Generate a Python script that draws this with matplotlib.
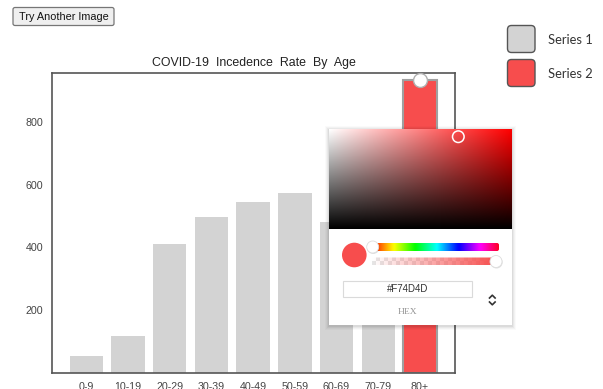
import numpy as np
import matplotlib.pyplot as plt
from matplotlib.patches import FancyBboxPatch, Circle, Rectangle

# chart data
ages = ["0-9", "10-19", "20-29", "30-39", "40-49", "50-59", "60-69", "70-79", "80+"]
rates = [53, 118, 410, 496, 545, 574, 480, 520, 934]
bar_colors = ["#d3d3d3"] * 8 + ["#f74d4d"]
y_ticks = [200, 400, 600, 800]
series_names = ["Series 1", "Series 2"]
series_colors = ["#d3d3d3", "#f74d4d"]
picked_hex = "#F74D4D"
title = "COVID-19  Incedence  Rate  By  Age"

W, H = 603, 389
fig = plt.figure(figsize=(W / 100, H / 100), dpi=100)
fig.patch.set_facecolor("white")

# main chart (pixel box: x 52..455, y 73..372.5)
ax = fig.add_axes([52.3 / W, (H - 372.5) / H, (455 - 52.3) / W, (372.5 - 72.7) / H], zorder=1)
x = np.arange(len(ages))
bars = ax.bar(x, rates, width=0.8, color=bar_colors, zorder=2)
sel = bars[-1]
sel.set_edgecolor("#a0a0a0")
sel.set_linewidth(1.5)
ax.plot(x[-1], rates[-1], "o", ms=10, mfc="white", mec="#b0b0b0", mew=1, zorder=3, clip_on=False)

ax.set_xlim(-0.815, 8.84)
ax.set_ylim(0, 958)
ax.set_yticks(y_ticks)
ax.set_xticks(x)
ax.set_xticklabels(ages)
ax.tick_params(length=0, labelsize=7.7, colors="#444444")
ax.tick_params(axis="x", pad=7.2)
ax.tick_params(axis="y", pad=6.5)
for lab in ax.get_xticklabels() + ax.get_yticklabels():
    lab.set_family("Liberation Sans")
for s in ax.spines.values():
    s.set_color("#555555")
    s.set_linewidth(1.2)
ax.set_title(title, fontsize=8.9, family="Liberation Sans", color="#222222", pad=5)

# overlay in pixel coordinates for the page widgets
ov = fig.add_axes([0, 0, 1, 1], zorder=10)
ov.set_xlim(0, W)
ov.set_ylim(H, 0)
ov.set_axis_off()

# button
ov.add_patch(FancyBboxPatch((13, 7.5), 101, 18, boxstyle="round,pad=0,rounding_size=2",
                            fc="#efefef", ec="#767676", lw=0.9))
ov.text(63.5, 16.8, "Try Another Image", ha="center", va="center", fontsize=7.8,
        family="Liberation Sans", color="#111111")

# legend
for i, (name, col) in enumerate(zip(series_names, series_colors)):
    y0 = 25.5 + i * 34
    ov.add_patch(FancyBboxPatch((507.5, y0), 27.5, 27, boxstyle="round,pad=0,rounding_size=4",
                                fc=col, ec="#555555", lw=1))
    ov.text(548, y0 + 14, name, ha="left", va="center", fontsize=9.3, family="Lato", color="#333333")

# colour picker panel
px0, px1, py0, py1 = 329.3, 512.3, 129.3, 325
for k, a in enumerate([0.05, 0.04, 0.03, 0.02]):
    d = k + 1
    ov.add_patch(Rectangle((px0 - d, py0 - d + 1), px1 - px0 + 2 * d, py1 - py0 + 2 * d,
                           fc="#000000", ec="none", alpha=a))
ov.add_patch(Rectangle((px0, py0), px1 - px0, py1 - py0, fc="white", ec="none"))

# saturation / value square for red hue
sat = np.linspace(0, 1, 184)
val = np.linspace(1, 0, 100)
S, V = np.meshgrid(sat, val)
sv = np.zeros((100, 184, 3))
sv[..., 0] = V
sv[..., 1] = V * (1 - S)
sv[..., 2] = V * (1 - S)
ov.imshow(sv, extent=(px0, px1, 229.3, py0), aspect="auto", interpolation="bilinear", zorder=2)
ov.add_patch(Circle((458.3, 136.7), 5.8, fc="none", ec="white", lw=1.1, zorder=3))

# hue slider
hue = np.linspace(0, 1, 256)[None, :]
im = ov.imshow(hue, cmap="hsv", extent=(371.5, 499, 251, 243), aspect="auto", zorder=2)
clip = FancyBboxPatch((371.5, 243), 127.5, 8, boxstyle="round,pad=0,rounding_size=2",
                      fc="none", ec="none", transform=ov.transData)
ov.add_patch(clip)
im.set_clip_path(clip)

# alpha slider with checkerboard
aw, ah = 126, 8
yy, xx = np.mgrid[0:ah, 0:aw]
chk = np.where(((xx // 4) + (yy // 4)) % 2 == 0, 1.0, 0.9)
alpha = np.linspace(0, 1, aw)[None, :]
red = np.array([0xf7, 0x4d, 0x4d]) / 255
alp = np.zeros((ah, aw, 3))
for c in range(3):
    alp[..., c] = chk * (1 - alpha) + red[c] * alpha
im2 = ov.imshow(alp, extent=(371.5, 497.5, 265.5, 257.5), aspect="auto", zorder=2)
clip2 = FancyBboxPatch((371.5, 257.5), 126, 8, boxstyle="round,pad=0,rounding_size=2",
                       fc="none", ec="none", transform=ov.transData)
ov.add_patch(clip2)
im2.set_clip_path(clip2)

for cx, cy in [(372.7, 247), (496, 261.5)]:
    ov.add_patch(Circle((cx + 0.5, cy + 0.8), 6.2, fc="#000000", alpha=0.12, ec="none", zorder=3))
    ov.add_patch(Circle((cx, cy), 6, fc="white", ec="#dddddd", lw=0.6, zorder=4))

ov.add_patch(Circle((354.3, 255), 12.3, fc=picked_hex, ec="none", zorder=3))

# hex field
ov.add_patch(Rectangle((342.7, 280.7), 129.6, 16, fc="white", ec="#dadada", lw=0.8, zorder=3))
ov.text(407.5, 289, picked_hex, ha="center", va="center", fontsize=7, family="Liberation Sans",
        color="#333333", zorder=4)
ov.text(407.5, 311.5, "HEX", ha="center", va="center", fontsize=6.8, family="Liberation Serif",
        color="#969696", zorder=4)
ov.plot([489.5, 492.3, 495.1], [298, 295.2, 298], color="#333333", lw=1.2, zorder=4)
ov.plot([489.5, 492.3, 495.1], [302, 304.8, 302], color="#333333", lw=1.2, zorder=4)
ov.set_xlim(0, W)
ov.set_ylim(H, 0)

fig.savefig("out.png", dpi=100, facecolor="white")
